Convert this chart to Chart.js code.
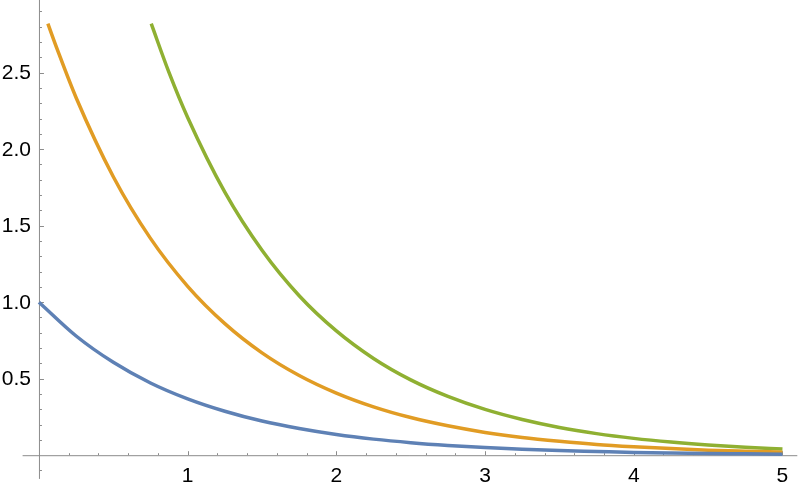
<!DOCTYPE html>
<html>
<head>
<meta charset="utf-8">
<script src="https://cdn.jsdelivr.net/npm/chart.js@4"></script>
<style>
  html, body { margin: 0; padding: 0; background: #fff; }
  canvas { display: block; }
</style>
</head>
<body>
<canvas id="plot" width="800" height="491"></canvas>
<script>
// values
const blueX = [0, 0.25, 0.5, 0.75, 1, 1.25, 1.5, 1.75, 2, 2.25, 2.5, 2.75, 3, 3.25, 3.5, 3.75, 4, 4.25, 4.5, 4.75, 5];
const blueY = [1.0, 0.779, 0.607, 0.472, 0.368, 0.287, 0.223, 0.174, 0.135, 0.105, 0.082, 0.064, 0.05, 0.039, 0.03, 0.024, 0.018, 0.014, 0.011, 0.009, 0.007];

const orangeX = [0.06, 0.125, 0.25, 0.5, 0.75, 1, 1.25, 1.5, 1.75, 2, 2.25, 2.5, 2.75, 3, 3.25, 3.5, 3.75, 4, 4.25, 4.5, 4.75, 5];
const orangeY = [2.82, 2.647, 2.336, 1.82, 1.417, 1.104, 0.86, 0.669, 0.521, 0.406, 0.316, 0.246, 0.192, 0.149, 0.116, 0.091, 0.07, 0.055, 0.043, 0.033, 0.026, 0.02];

const greenX = [0.755, 0.875, 1, 1.25, 1.5, 1.75, 2, 2.25, 2.5, 2.75, 3, 3.25, 3.5, 3.75, 4, 4.25, 4.5, 4.75, 5];
const greenY = [2.82, 2.5, 2.207, 1.719, 1.339, 1.042, 0.812, 0.632, 0.492, 0.384, 0.299, 0.233, 0.181, 0.141, 0.11, 0.086, 0.067, 0.052, 0.04];

const xTicks = [1, 2, 3, 4, 5];
const xTickLabels = ["1", "2", "3", "4", "5"];
const yTicks = [0.5, 1, 1.5, 2, 2.5];
const yTickLabels = ["0.5", "1.0", "1.5", "2.0", "2.5"];

const toPoints = (xs, ys) => xs.map((x, i) => ({ x: x, y: ys[i] }));

const axisColor = "#8c8c8c";

// Mathematica style axes crossing at the origin
const originAxes = {
  id: "originAxes",
  beforeDatasetsDraw(chart) {
    const ctx = chart.ctx;
    const xs = chart.scales.x;
    const ys = chart.scales.y;
    const x0 = xs.getPixelForValue(0);
    const y0 = ys.getPixelForValue(0);

    ctx.save();
    ctx.strokeStyle = axisColor;
    ctx.lineWidth = 1;

    ctx.beginPath();
    ctx.moveTo(xs.getPixelForValue(-0.11), y0 + 0.5);
    ctx.lineTo(xs.getPixelForValue(5.1), y0 + 0.5);
    ctx.moveTo(x0 + 0.5, ys.getPixelForValue(-0.155));
    ctx.lineTo(x0 + 0.5, ys.getPixelForValue(ys.max));
    ctx.stroke();

    // minor + major ticks on x
    ctx.beginPath();
    for (let i = 1; i <= 25; i++) {
      const v = i * 0.2;
      const px = Math.round(xs.getPixelForValue(v)) + 0.5;
      const len = i % 5 === 0 ? 4 : 2;
      ctx.moveTo(px, y0);
      ctx.lineTo(px, y0 - len);
    }
    // minor + major ticks on y
    for (let i = -1; i <= 29; i++) {
      if (i === 0) continue;
      const v = i * 0.1;
      const py = Math.round(ys.getPixelForValue(v)) + 0.5;
      const len = i % 5 === 0 ? 4 : 2;
      ctx.moveTo(x0 + 1, py);
      ctx.lineTo(x0 + 1 + len, py);
    }
    ctx.stroke();

    ctx.fillStyle = "#000";
    ctx.font = "21px 'Liberation Sans', Arial, sans-serif";
    ctx.textAlign = "center";
    ctx.textBaseline = "middle";
    xTicks.forEach((v, i) => {
      ctx.fillText(xTickLabels[i], xs.getPixelForValue(v), y0 + 21);
    });
    ctx.textAlign = "right";
    yTicks.forEach((v, i) => {
      ctx.fillText(yTickLabels[i], x0 - 8, ys.getPixelForValue(v) + 1);
    });
    ctx.restore();
  },
};

const lineSet = (data, color) => ({
  data: data,
  showLine: true,
  borderColor: color,
  borderWidth: 3.5,
  pointRadius: 0,
  fill: false,
  cubicInterpolationMode: "monotone",
});

new Chart(document.getElementById("plot").getContext("2d"), {
  type: "scatter",
  data: {
    datasets: [
      lineSet(toPoints(blueX, blueY), "#5E81B5"),
      lineSet(toPoints(orangeX, orangeY), "#E19C24"),
      lineSet(toPoints(greenX, greenY), "#8FB032"),
    ],
  },
  options: {
    responsive: false,
    animation: false,
    layout: { padding: 0 },
    plugins: {
      legend: { display: false },
      tooltip: { enabled: false },
    },
    scales: {
      x: { type: "linear", min: -0.262, max: 5.118, display: false },
      y: { type: "linear", min: -0.234, max: 2.975, display: false },
    },
  },
  plugins: [originAxes],
});
</script>
</body>
</html>
